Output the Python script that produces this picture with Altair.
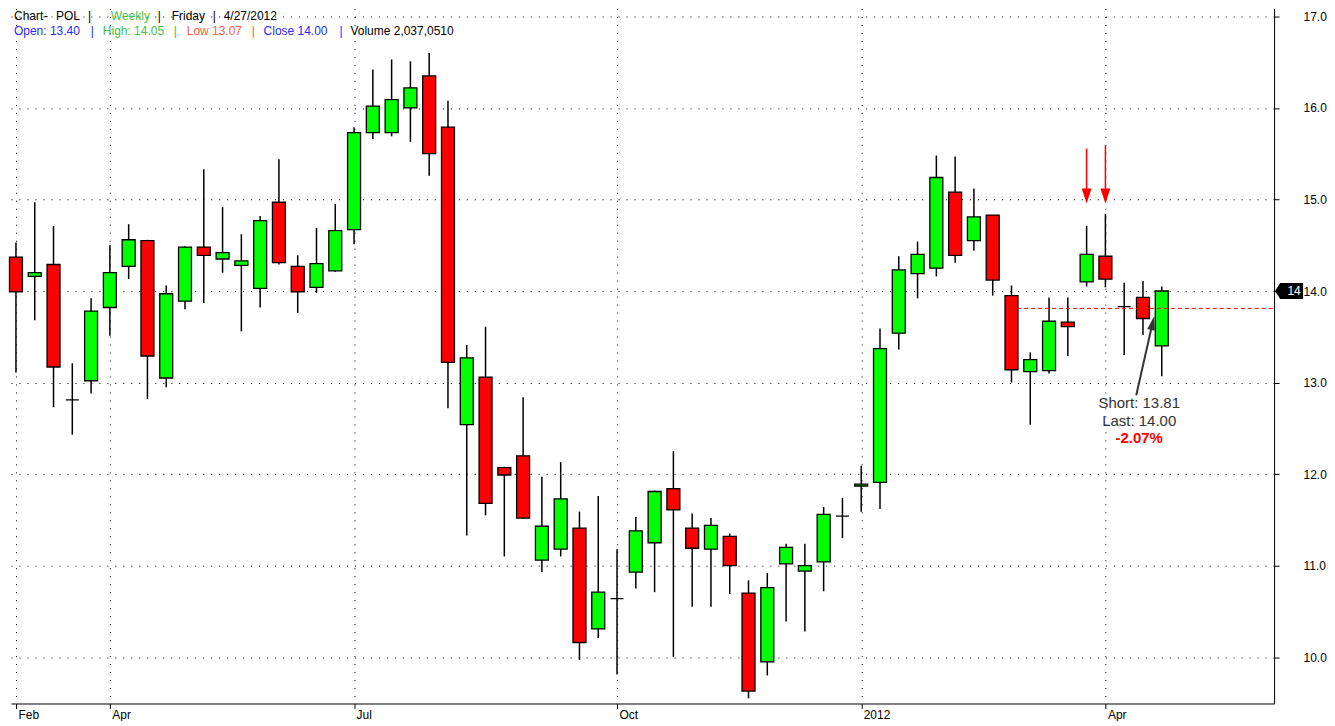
import altair as alt
import pandas as pd
import numpy as np

# ---------------- data ----------------
dates = pd.date_range("2011-02-25", periods=62, freq="7D").strftime("%Y-%m-%d").tolist()
opens = [14.37, 14.16, 14.29, 12.81, 13.02, 13.82, 14.27, 14.55, 13.05, 13.89,
         14.48, 14.35, 14.28, 14.03, 14.97, 14.27, 14.04, 14.22, 14.67, 15.73,
         15.73, 16.00, 16.35, 15.79, 12.54, 13.06, 12.07, 12.20, 11.06, 11.18,
         11.41, 10.31, 10.64, 10.93, 11.25, 11.84, 11.41, 11.18, 11.32, 10.70,
         9.95, 11.02, 10.94, 11.04, 11.54, 11.87, 11.91, 13.54, 14.19, 14.25,
         15.08, 14.55, 14.83, 13.95, 13.12, 13.13, 13.66, 14.10, 14.38, 13.83,
         13.93, 13.40]
highs = [14.53, 14.97, 14.71, 13.21, 13.92, 14.50, 14.73, 14.56, 14.06, 14.49,
         15.33, 14.92, 14.62, 14.82, 15.44, 14.39, 14.69, 14.95, 15.79, 16.42,
         16.53, 16.51, 16.60, 16.08, 13.41, 13.61, 12.08, 12.84, 11.97, 12.13,
         11.59, 11.76, 11.18, 11.53, 11.82, 12.25, 11.57, 11.52, 11.35, 10.84,
         10.92, 11.24, 11.24, 11.64, 11.74, 12.09, 13.59, 14.38, 14.54, 15.48,
         15.47, 15.12, 14.83, 14.06, 13.33, 13.93, 13.93, 14.71, 14.84, 14.09,
         14.11, 14.05]
lows = [13.11, 13.68, 12.73, 12.43, 12.88, 13.51, 14.13, 12.82, 12.95, 13.80,
        13.87, 14.20, 13.56, 13.82, 14.29, 13.76, 13.98, 14.21, 14.51, 15.66,
        15.69, 15.63, 15.26, 12.72, 11.33, 11.55, 11.10, 11.51, 10.93, 11.10,
        9.97, 10.21, 9.81, 10.75, 10.71, 10.00, 10.55, 10.55, 10.69, 9.55,
        9.80, 10.39, 10.28, 10.72, 11.30, 11.59, 11.62, 13.36, 13.92, 14.16,
        14.31, 14.44, 13.95, 13.00, 12.54, 13.10, 13.29, 14.05, 14.04, 13.30,
        13.52, 13.07]
closes = [13.99, 14.20, 13.17, 12.81, 13.78, 14.20, 14.56, 13.29, 13.97, 14.48,
          14.39, 14.42, 14.33, 14.77, 14.31, 13.99, 14.30, 14.66, 15.73, 16.02,
          16.09, 16.22, 15.50, 13.22, 13.27, 11.68, 11.99, 11.52, 11.43, 11.73,
          10.16, 10.71, 10.64, 11.38, 11.81, 11.61, 11.19, 11.44, 11.00, 9.63,
          10.76, 11.20, 11.00, 11.56, 11.54, 11.89, 13.37, 14.23, 14.40, 15.24,
          14.39, 14.81, 14.12, 13.14, 13.25, 13.67, 13.61, 14.40, 14.13, 13.83,
          13.70, 14.00]

tick_idx = [0, 5, 18, 32, 45, 58]
tick_labels = ["Feb", "Apr", "Jul", "Oct", "2012", "Apr"]
price_ticks = [10, 11, 12, 13, 14, 15, 16, 17]

signal_idx = [57, 58]          # red down arrows
short_price = 13.81
short_start = 53.3
last_price = 14.00
annot_lines = ["Short: 13.81", "Last: 14.00", "-2.07%"]

df = pd.DataFrame({"i": list(range(len(opens))), "date": dates, "open": opens,
                   "high": highs, "low": lows, "close": closes})
df["dir"] = np.where(df["close"] >= df["open"], "up", "down")

# ---------------- scales / axes ----------------
X0, X1 = -0.264, 66.98
xs = alt.Scale(domain=[X0, X1], nice=False, zero=False)
ys = alt.Scale(domain=[9.494, 17.086], nice=False, zero=False)
FONT = "Liberation Sans"

lab_expr = "".join(f"datum.value=={v}?'{l}':" for v, l in zip(tick_idx, tick_labels)) + "''"
xaxis = alt.Axis(values=tick_idx, labelExpr=lab_expr, title=None, orient="bottom",
                 grid=True, gridDash=[1, 7], gridColor="black", gridOpacity=1,
                 domainColor="black", tickColor="black", tickSize=5,
                 labelAlign="left", labelOffset=2, labelPadding=1, labelFont=FONT,
                 labelFontSize=12, labelColor="black", labelOverlap=False)
yaxis = alt.Axis(values=price_ticks, format=".1f", title=None, orient="right",
                 grid=True, gridDash=[1, 7], gridColor="black", gridOpacity=1,
                 domainColor="black", tickColor="black", tickSize=5,
                 labelPadding=24, labelFont=FONT, labelFontSize=12, labelColor="black")


def X(f):
    return alt.X(f, scale=xs, axis=xaxis, title=None)


def Y(f):
    return alt.Y(f, scale=ys, axis=yaxis, title=None)


base = alt.Chart(df)

wicks = base.mark_rule(color="black", strokeWidth=1.5).encode(
    x=X("i:Q"), y=Y("low:Q"), y2="high:Q")

bodies = base.transform_calculate(
    x0="datum.i - 0.345", x1="datum.i + 0.345"
).mark_rect(stroke="black", strokeWidth=1.3).encode(
    x=X("x0:Q"), x2="x1:Q", y=Y("open:Q"), y2="close:Q",
    color=alt.Color("dir:N", scale=alt.Scale(domain=["up", "down"],
                                             range=["#00ff00", "#ff0000"]), legend=None))

# short level dashed line
short_df = pd.DataFrame({"x": [short_start], "x2": [X1], "p": [short_price]})
short_line = alt.Chart(short_df).mark_rule(color="#ff0000", strokeDash=[4, 3], strokeWidth=1).encode(
    x=X("x:Q"), x2="x2:Q", y=Y("p:Q"))

# red signal arrows
sig_df = pd.DataFrame({"i": signal_idx, "top": [15.556, 15.59], "bot": [15.04, 15.04],
                       "head": [15.037, 15.037]})
sig_shaft = alt.Chart(sig_df).mark_rule(color="#ff0000", strokeWidth=1.5).encode(
    x=X("i:Q"), y=Y("top:Q"), y2="bot:Q")
sig_head = alt.Chart(sig_df).mark_point(
    shape="M-0.66,-1 L0.66,-1 L0,1 Z", size=225, filled=True, color="#ff0000", opacity=1
).encode(x=X("i:Q"), y=Y("head:Q"))

# annotation arrow
ann_df = pd.DataFrame({"x": [59.64], "y": [12.86], "x2": [60.51], "y2": [13.65]})
ann_line = alt.Chart(ann_df).mark_rule(color="#333333", strokeWidth=2).encode(
    x=X("x:Q"), y=Y("y:Q"), x2="x2:Q", y2="y2:Q")
ann_head = alt.Chart(ann_df).mark_point(
    shape="M0,-1 L0.55,1 L-0.55,1 Z", size=196, filled=True, color="#333333",
    opacity=1, angle=12.8
).encode(x=X("x2:Q"), y=Y("y2:Q"))

txt_df = pd.DataFrame({"t": annot_lines, "x": [59.8, 59.8, 59.8], "y": [12.78, 12.585, 12.39],
                       "c": ["#333333", "#333333", "#ff0000"], "w": ["normal", "normal", "bold"]})
ann_txt1 = alt.Chart(txt_df.iloc[:2]).mark_text(font=FONT, fontSize=15, align="center",
                                                 baseline="middle", color="#333333").encode(
    x=X("x:Q"), y=Y("y:Q"), text="t:N")
ann_txt2 = alt.Chart(txt_df.iloc[2:]).mark_text(font=FONT, fontSize=15, fontWeight="bold",
                                                 align="center", baseline="middle",
                                                 color="#ff0000").encode(
    x=X("x:Q"), y=Y("y:Q"), text="t:N")

# last price tag on the axis
tag_df = pd.DataFrame({"p": [last_price], "t": ["14"]})
tag = alt.Chart(tag_df).mark_point(
    shape="M-1,0 L-0.64,-0.571 L1,-0.571 L1,0.571 L-0.64,0.571 Z", size=784,
    filled=True, color="black", opacity=1
).encode(x=alt.value(1280), y=Y("p:Q"))
tag_txt = alt.Chart(tag_df).mark_text(font=FONT, fontSize=12, color="white",
                                      align="center", baseline="middle").encode(
    x=alt.value(1285), y=Y("p:Q"), text="t:N")

# header
GREEN, BLUE, ORANGE = "#3fc43f", "#2a2aff", "#ff6040"
header = [
    (3, 7, "Chart", "black"), (33, 7, "-", "black"), (45, 7, "POL", "black"),
    (77, 7, "|", "black"), (100, 7, "Weekly", GREEN), (147, 7, "|", "black"),
    (161, 7, "Friday", "black"), (202, 7, "|", "black"), (213, 7, "4/27/2012", "black"),
    (3, 22, "Open: 13.40", BLUE), (80, 22, "|", BLUE), (92, 22, "High: 14.05", GREEN),
    (163, 22, "|", GREEN), (176, 22, "Low 13.07", ORANGE), (241, 22, "|", ORANGE),
    (253, 22, "Close 14.00", BLUE), (329, 22, "|", BLUE), (340, 22, "Volume 2,037,0510", "black"),
]
header_layers = [
    alt.Chart(pd.DataFrame({"t": [t]})).mark_text(
        font=FONT, fontSize=12, align="left", baseline="middle", color=c
    ).encode(x=alt.value(px), y=alt.value(py), text="t:N")
    for px, py, t, c in header
]

chart = alt.layer(
    wicks, bodies, short_line, sig_shaft, sig_head, ann_line, ann_head,
    ann_txt1, ann_txt2, tag, tag_txt, *header_layers
).properties(width=1265, height=696, padding=0, background="white"
).configure_view(strokeWidth=0)

chart.save("out.html", embed_options={"renderer": "svg", "actions": False})
